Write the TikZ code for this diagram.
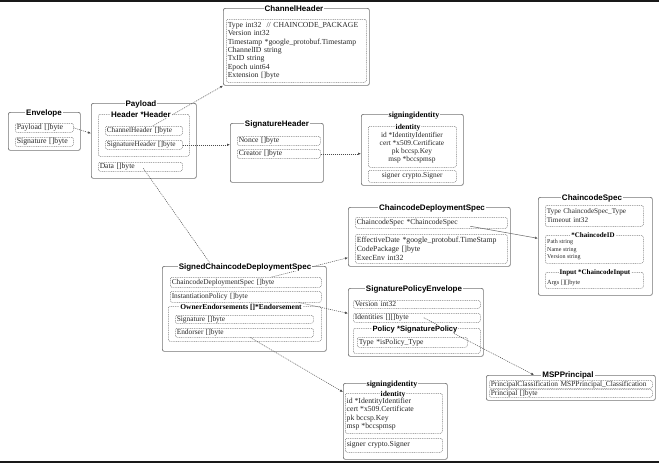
\documentclass[tikz,border=0pt]{standalone}
\usepackage{fontspec}
\setmainfont{Liberation Serif}
\setsansfont{Liberation Sans}
\usetikzlibrary{arrows.meta}
\newcommand\itf{\fontsize{7.6}{8.5}\selectfont}
\newcommand\mkbox[6][]{\pgfmathsetmacro\bw{#5-#3}\pgfmathsetmacro\bh{#6-#4}\node[#1,anchor=north west,minimum width=\bw pt,minimum height=\bh pt] (#2) at (#3,#4) {};}
\newcommand\mkitem[7][]{\pgfmathsetmacro\bw{#5-#3}\pgfmathsetmacro\bh{#6-#4}\pgfmathsetmacro\tw{#5-#3-3}\node[ibox,anchor=north west,minimum width=\bw pt,minimum height=\bh pt,text width=\tw pt,align=left,#1] (#2) at (#3,#4) {#7};}
\tikzset{
 obox/.style={draw=black!55, line width=0.7pt, rounded corners=2pt, inner sep=0pt},
 ibox/.style={draw=black!50, line width=0.5pt, dash pattern=on 1pt off 0.8pt, rounded corners=1.5pt, inner xsep=1.5pt, inner ysep=0pt, font=\itf, text=black!85},
 ttl/.style={font=\sffamily\bfseries\fontsize{8}{9}\selectfont, fill=white, inner xsep=1pt, inner ysep=0.5pt, anchor=base},
 ttls/.style={font=\rmfamily\bfseries\fontsize{7.5}{9}\selectfont, fill=white, inner xsep=1pt, inner ysep=0.5pt, anchor=base},
 txt/.style={font=\itf, text=black!85, inner sep=0pt, align=left},
 conn/.style={draw=black!70, line width=0.5pt, dash pattern=on 1pt off 1pt, -{Latex[length=3pt,width=2.5pt]}},
 connsolid/.style={draw=black!60, line width=0.5pt, -{Latex[length=3pt,width=2.5pt]}},
}
\begin{document}
\begin{tikzpicture}[x=1pt,y=-1pt]
\useasboundingbox (0,0) rectangle (659,463);
\fill[black!90] (0,0) rectangle (659,1.5);
\fill[black!90] (0,460.5) rectangle (659,463);
% Envelope
\mkbox[obox]{env}{8}{112}{80}{150}
\mkitem[font=\fontsize{7.8}{8.5}\selectfont]{envPay}{15}{123}{73}{132}{Payload []byte}
\mkitem[font=\fontsize{7.8}{8.5}\selectfont]{envSig}{15}{137}{73}{146}{Signature []byte}
% Payload
\mkbox[obox]{pay}{91}{103}{196}{178}
\mkbox[ibox]{hdr}{98}{114}{189}{156}
\mkitem[font=\fontsize{7.3}{8.5}\selectfont]{chItem}{105}{126}{182}{135}{ChannelHeader []byte}
\mkitem[font=\fontsize{7.3}{8.5}\selectfont]{shItem}{105}{140}{182}{149}{SignatureHeader []byte}
\mkitem{dataItem}{98}{162}{182}{171}{Data []byte}
% ChannelHeader
\mkbox[obox]{chb}{223}{8}{369}{85}
\mkitem[font=\fontsize{7.7}{8.4}\selectfont]{chLines}{226}{19}{366}{82}{Type int32~~// CHAINCODE\_PACKAGE\\Version int32\\Timestamp *google\_protobuf.Timestamp\\ChannelID string\\TxID string\\Epoch uint64\\Extension []byte}
% SignatureHeader
\mkbox[obox]{shb}{230}{123}{323}{182}
\mkitem{nonce}{237}{136}{320}{145}{Nonce []byte}
\mkitem{creator}{237}{149}{320}{158}{Creator []byte}
% signingidentity top
\mkbox[obox]{si1}{361}{114}{463}{185}
\mkbox[ibox]{id1}{368}{126}{456}{167}
\node[txt, align=center, anchor=north, font=\fontsize{7.4}{7.9}\selectfont] (id1lines) at (412,132) {id *IdentityIdentifier\\cert *x509.Certificate\\pk bccsp.Key\\msp *bccspmsp};
\mkitem[align=center,font=\fontsize{7.4}{8}\selectfont]{signer1}{368}{170}{456}{182}{signer crypto.Signer}
% ChaincodeDeploymentSpec
\mkbox[obox]{cdsb}{348}{207}{510}{266}
\mkitem{csItem}{355}{217}{507}{228}{ChaincodeSpec *ChaincodeSpec}
\mkitem[font=\fontsize{7.8}{8.8}\selectfont]{cdsLines}{355}{234}{507}{263}{EffectiveDate *google\_protobuf.TimeStamp\\CodePackage []byte\\ExecEnv int32}
% ChaincodeSpec
\mkbox[obox]{csb}{538}{197}{652}{295}
\mkitem[font=\fontsize{7.2}{8.5}\selectfont]{csType}{545}{205}{643}{226}{Type ChaincodeSpec\_Type\\Timeout int32}
\mkbox[ibox]{ccid}{545}{235}{643}{263}
\node[txt, anchor=north west, font=\fontsize{6}{7.3}\selectfont] (ccidLines) at (547,239.5) {Path string\\Name string\\Version string};
\mkbox[ibox]{inputb}{545}{272}{643}{288}
\node[txt, anchor=base west, font=\fontsize{6.3}{7}\selectfont] (argsTxt) at (547,284) {Args [][]byte};
% SignedChaincodeDeploymentSpec
\mkbox[obox]{scds}{162}{266}{326}{351}
\mkitem[font=\fontsize{7.4}{8.5}\selectfont]{cdsItem}{170}{277}{321}{287}{ChaincodeDeploymentSpec []byte}
\mkitem[font=\fontsize{7.4}{8.5}\selectfont]{polItem}{170}{291}{321}{302}{InstantiationPolicy []byte}
\mkbox[ibox]{owner}{168}{306}{321}{341}
\mkitem[font=\fontsize{7.4}{8.5}\selectfont]{osig}{175}{315}{313}{323}{Signature []byte}
\mkitem[font=\fontsize{7.4}{8.5}\selectfont]{oend}{175}{328}{313}{337}{Endorser []byte}
% SignaturePolicyEnvelope
\mkbox[obox]{spe}{348}{288}{483}{356}
\mkitem{sver}{353}{300}{480}{308}{Version int32}
\mkitem{sids}{353}{313}{480}{322}{Identities [][]byte}
\mkbox[ibox]{pol}{353}{328}{480}{353}
\mkitem{ptype}{357}{337}{467}{347}{Type *isPolicy\_Type}
% MSPPrincipal
\mkbox[obox]{mspb}{486}{375}{655}{400}
\mkitem[font=\fontsize{7.4}{8}\selectfont]{pcls}{489}{380}{652}{388}{PrincipalClassification MSPPrincipal\_Classification}
\mkitem[font=\fontsize{7.4}{8}\selectfont]{pprin}{489}{389}{652}{397}{Principal []byte}
% signingidentity bottom
\mkbox[obox]{si2}{343}{383}{447}{459}
\mkbox[ibox]{id2}{345}{393}{442}{433}
\node[txt, anchor=north west, font=\fontsize{7.7}{8.2}\selectfont] (id2lines) at (346.5,398) {id *IdentityIdentifier\\cert *x509.Certificate\\pk bccsp.Key\\msp *bccspmsp};
\mkitem[font=\fontsize{7.7}{8.5}\selectfont]{signer2}{345}{438}{442}{452}{signer crypto.Signer}
% connectors
\draw[conn] (envPay.east) -- ([yshift=7.5pt]pay.west);
\draw[conn] ([xshift=9pt]chItem.north) -- (chb.south west);
\draw[conn] (shItem.east) -- (shItem.east -| shb.west);
\draw[conn] (creator.east) -- (creator.east -| si1.west);
\coordinate (scdsTop) at ([xshift=50pt]scds.north west);
\draw[conn] ([xshift=3pt,yshift=-1.5pt]dataItem.center) -- (scdsTop);
\draw[conn] ([xshift=26pt]cdsItem.north) -- ([yshift=9pt]cdsb.south west);
\draw[conn] ([xshift=53pt]polItem.south) -- ([yshift=9pt]spe.west);
\draw[conn] ([xshift=6pt]oend.south) -- ([yshift=-9pt]si2.north west);
\draw[connsolid] ([xshift=39pt,yshift=-3.5pt]csItem.center) -- ([yshift=8pt]csb.west);
\draw[conn] ([xshift=7pt]sids.center) -- ([xshift=48pt]mspb.north west);
% titles
\node[ttl] (tEnv) at (44,115) {Envelope};
\node[ttl] (tPay) at (141,106) {Payload};
\node[ttl] (tHdr) at (141,117) {Header *Header};
\node[ttl] (tCh) at (294,11) {ChannelHeader};
\node[ttl] (tSh) at (277,126) {SignatureHeader};
\node[ttls, font=\rmfamily\bfseries\fontsize{8}{9}\selectfont] (tSi1) at (414,117) {signingidentity};
\node[ttls] (tId1) at (408,129) {identity};
\node[ttl] (tCds) at (432,210) {ChaincodeDeploymentSpec};
\node[ttl] (tCs) at (592,200) {ChaincodeSpec};
\node[ttls, font=\rmfamily\bfseries\fontsize{7}{8}\selectfont] (tCcid) at (593,237.5) {*ChaincodeID};
\node[ttls, font=\rmfamily\bfseries\fontsize{7}{8}\selectfont] (tInput) at (595,274.5) {Input *ChaincodeInput};
\node[ttl] (tScds) at (245,269) {SignedChaincodeDeploymentSpec};
\node[ttls] (tOwner) at (241,309.5) {OwnerEndorsements []*Endorsement};
\node[ttl] (tSpe) at (414,291) {SignaturePolicyEnvelope};
\node[ttl, font=\sffamily\bfseries\fontsize{7.6}{9}\selectfont] (tPol) at (415,331) {Policy *SignaturePolicy};
\node[ttl] (tMsp) at (568,377.5) {MSPPrincipal};
\node[ttls, font=\rmfamily\bfseries\fontsize{8}{9}\selectfont] (tSi2) at (392,386) {signingidentity};
\node[ttls] (tId2) at (393,396) {identity};
\end{tikzpicture}
\end{document}
